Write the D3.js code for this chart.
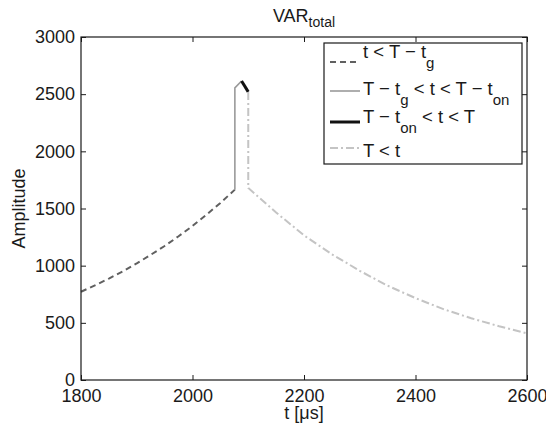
<!DOCTYPE html>
<html>
<head>
<meta charset="utf-8">
<script src="https://cdn.jsdelivr.net/npm/d3@7"></script>
<style>
  body { margin: 0; background: #fff; }
  svg text { font-family: "Liberation Sans", Arial, Helvetica, sans-serif; fill: #1a1a1a; }
</style>
</head>
<body>
<div id="vis"></div>
<script>
// chart size and margins
const FRAME_WIDTH = 546;
const FRAME_HEIGHT = 431;
const MARGINS = {left: 81, right: 19, top: 37, bottom: 51};
const VIS_WIDTH = FRAME_WIDTH - MARGINS.left - MARGINS.right;
const VIS_HEIGHT = FRAME_HEIGHT - MARGINS.top - MARGINS.bottom;

// data
// t < T - t_g  (dashed, rising)
const preT = [1800, 1825, 1850, 1875, 1900, 1925, 1950, 1975, 2000, 2025, 2050, 2076];
const preA = [772, 828, 887, 950, 1020, 1095, 1172, 1257, 1347, 1445, 1549, 1665];
// T - t_g < t < T - t_on  (solid gray)
const gateT = [2076, 2076, 2088];
const gateA = [1665, 2555, 2615];
// T - t_on < t < T  (thick black)
const onT = [2088, 2100];
const onA = [2615, 2520];
// T < t  (dash-dot, decaying)
const postT = [2100, 2100, 2150, 2200, 2250, 2300, 2350, 2400, 2450, 2500, 2550, 2600];
const postA = [2520, 1680, 1465, 1265, 1100, 955, 825, 716, 620, 540, 470, 408];

// axis ticks
const xTicks = [1800, 2000, 2200, 2400, 2600];
const yTicks = [0, 500, 1000, 1500, 2000, 2500, 3000];

const FRAME = d3.select("#vis")
  .append("svg")
    .attr("width", FRAME_WIDTH)
    .attr("height", FRAME_HEIGHT);

const X_SCALE = d3.scaleLinear().domain([1800, 2600]).range([0, VIS_WIDTH]);
const Y_SCALE = d3.scaleLinear().domain([0, 3000]).range([VIS_HEIGHT, 0]);

const plot = FRAME.append("g")
  .attr("transform", "translate(" + MARGINS.left + "," + MARGINS.top + ")");

// series styles
const series = [
  {t: preT, a: preA, color: "#606060", width: 2, dash: "6,4"},
  {t: gateT, a: gateA, color: "#9a9a9a", width: 1.6, dash: null},
  {t: onT, a: onA, color: "#111", width: 3, dash: null},
  {t: postT, a: postA, color: "#c4c4c4", width: 2, dash: "8,3,2,3"}
];

const line = d3.line()
  .x(d => X_SCALE(d[0]))
  .y(d => Y_SCALE(d[1]));

series.forEach(s => {
  plot.append("path")
    .datum(d3.zip(s.t, s.a))
    .attr("d", line)
    .attr("fill", "none")
    .attr("stroke", s.color)
    .attr("stroke-width", s.width)
    .attr("stroke-dasharray", s.dash)
    .attr("stroke-linejoin", "miter");
});

// axes, matlab style: ticks inward on all four sides
const TICK = 5;
const fmt = d3.format("d");
plot.append("g")
  .attr("transform", "translate(0," + VIS_HEIGHT + ")")
  .call(d3.axisBottom(X_SCALE).tickValues(xTicks).tickFormat(fmt).tickSizeInner(-TICK).tickSizeOuter(0).tickPadding(9));
plot.append("g")
  .call(d3.axisTop(X_SCALE).tickValues(xTicks).tickSizeInner(-TICK).tickSizeOuter(0).tickFormat(""));
plot.append("g")
  .call(d3.axisLeft(Y_SCALE).tickValues(yTicks).tickFormat(fmt).tickSizeInner(-TICK).tickSizeOuter(0).tickPadding(6));
plot.append("g")
  .attr("transform", "translate(" + VIS_WIDTH + ",0)")
  .call(d3.axisRight(Y_SCALE).tickValues(yTicks).tickSizeInner(-TICK).tickSizeOuter(0).tickFormat(""));

plot.selectAll(".domain").remove();
plot.selectAll(".tick line").attr("stroke", "#1a1a1a");
plot.selectAll(".tick text")
  .attr("font-size", "18px")
  .attr("font-family", "Liberation Sans, Arial, sans-serif")
  .attr("fill", "#1a1a1a");

// box
plot.append("rect")
  .attr("width", VIS_WIDTH)
  .attr("height", VIS_HEIGHT)
  .attr("fill", "none")
  .attr("stroke", "#1a1a1a")
  .attr("stroke-width", 1.2);

// title with subscript
const title = FRAME.append("text")
  .attr("x", MARGINS.left + VIS_WIDTH / 2)
  .attr("y", 22)
  .attr("text-anchor", "middle")
  .attr("font-size", "18px");
title.append("tspan").text("VAR");
title.append("tspan").attr("font-size", "14px").attr("dy", 5).text("total");

// axis labels
FRAME.append("text")
  .attr("x", MARGINS.left + VIS_WIDTH / 2)
  .attr("y", 419)
  .attr("text-anchor", "middle")
  .attr("font-size", "18px")
  .text("t [\u03bcs]");

FRAME.append("text")
  .attr("transform", "translate(25," + (MARGINS.top + VIS_HEIGHT / 2) + ") rotate(-90)")
  .attr("text-anchor", "middle")
  .attr("font-size", "18px")
  .text("Amplitude");

// legend
const legend = FRAME.append("g").attr("transform", "translate(324,43)");
legend.append("rect")
  .attr("width", 198)
  .attr("height", 121)
  .attr("fill", "#fff")
  .attr("stroke", "#1a1a1a")
  .attr("stroke-width", 1.2);

// label parts: [text, isSubscript]
const legendLabels = [
  [["t < T \u2212 t", false], ["g", true]],
  [["T \u2212 t", false], ["g", true], [" < t < T \u2212 t", false], ["on", true]],
  [["T \u2212 t", false], ["on", true], [" < t < T", false]],
  [["T < t", false]]
];
const rowLineY = [19, 48, 79, 105];
const rowTextY = [15, 52, 80, 114];

legendLabels.forEach((parts, i) => {
  const s = series[i];
  legend.append("line")
    .attr("x1", 6).attr("x2", 36)
    .attr("y1", rowLineY[i]).attr("y2", rowLineY[i])
    .attr("stroke", s.color)
    .attr("stroke-width", s.width)
    .attr("stroke-dasharray", s.dash);
  const txt = legend.append("text")
    .attr("x", 39)
    .attr("y", rowTextY[i])
    .attr("font-size", "18.5px");
  let shifted = false;
  parts.forEach(p => {
    const ts = txt.append("tspan").text(p[0]);
    if (p[1] && !shifted) { ts.attr("dy", 10).attr("font-size", "15px"); shifted = true; }
    else if (p[1]) { ts.attr("font-size", "15px"); }
    else if (shifted) { ts.attr("dy", -10); shifted = false; }
  });
});
</script>
</body>
</html>
